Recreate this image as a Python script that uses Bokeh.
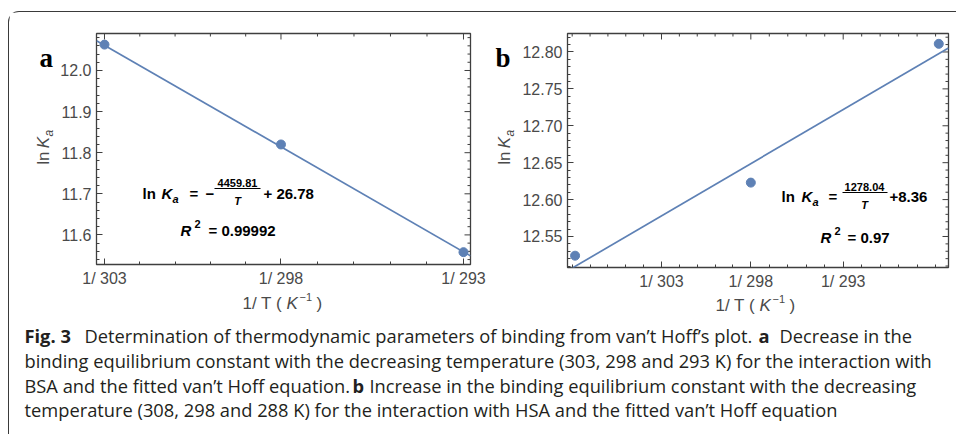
import math
from bokeh.plotting import figure
from bokeh.models import Range1d, FixedTicker, Label, PrintfTickFormatter
from bokeh.layouts import row, column
from bokeh.embed import file_html
from bokeh.resources import INLINE
from bokeh.core.properties import value

# ---------------- data ----------------
temps_a = [303, 298, 293]
lnka_a = [12.063, 11.820, 11.558]
fit_slope_a = -4459.81
fit_icpt_a = 26.78
r2_a = "0.99992"

temps_b = [308, 298, 288]
lnka_b = [12.524, 12.623, 12.811]
fit_slope_b = 1278.04
fit_icpt_b = 8.36
r2_b = "0.97"

xtick_temps = [303, 298, 293]
xtick_labels = ["1/ 303", "1/ 298", "1/ 293"]
ytick_a = [11.6, 11.7, 11.8, 11.9, 12.0]
ytick_b = [12.55, 12.60, 12.65, 12.70, 12.75, 12.80]

caption_l1 = ["Fig. 3", "Determination of thermodynamic parameters of binding from van\u2019t Hoff\u2019s plot.", "a", "Decrease in the"]
caption_l2 = ["binding equilibrium constant with the decreasing temperature (303, 298 and 293 K) for the interaction with"]
caption_l3 = ["BSA and the fitted van\u2019t Hoff equation.", "b", "Increase in the binding equilibrium constant with the decreasing"]
caption_l4 = ["temperature (308, 298 and 288 K) for the interaction with HSA and the fitted van\u2019t Hoff equation"]

# ---------------- style ----------------
BLUE = "#5E81B5"
FRAME = "#3f3f3f"
TXT = "#4a4a4a"
SANS = "Liberation Sans"


def minor_ticks(majors, n=4, extend=12):
    ms = sorted(majors)
    out = []
    for a, b in zip(ms[:-1], ms[1:]):
        st = (b - a) / (n + 1)
        out += [a + st * k for k in range(1, n + 1)]
    s0 = (ms[1] - ms[0]) / (n + 1)
    s1 = (ms[-1] - ms[-2]) / (n + 1)
    out += [ms[0] - s0 * k for k in range(1, extend)]
    out += [ms[-1] + s1 * k for k in range(1, extend)]
    return out


def make_panel(xr, yr, fw, fh, bl, br, bt, bb, yticks, yfmt):
    p = figure(frame_width=fw, frame_height=fh, min_border_left=bl, min_border_right=br,
               min_border_top=bt, min_border_bottom=bb,
               x_range=Range1d(*xr), y_range=Range1d(*yr),
               output_backend="svg", toolbar_location=None)
    p.grid.visible = False
    p.outline_line_color = FRAME
    p.outline_line_width = 1.3
    xmaj = [1.0 / t for t in xtick_temps]
    xmin = minor_ticks(xmaj)
    ymin = minor_ticks(yticks)
    p.xaxis.ticker = FixedTicker(ticks=xmaj, minor_ticks=xmin)
    p.yaxis.ticker = FixedTicker(ticks=yticks, minor_ticks=ymin)
    for ax in p.xaxis + p.yaxis:
        ax.axis_line_color = None
        ax.major_tick_line_color = FRAME
        ax.minor_tick_line_color = FRAME
        ax.major_tick_in = 6
        ax.major_tick_out = 0
        ax.minor_tick_in = 3
        ax.minor_tick_out = 0
        ax.major_label_text_font = SANS
        ax.major_label_text_font_size = "16px"
        ax.major_label_text_color = TXT
    p.xaxis.major_label_overrides = {1.0 / t: lab for t, lab in zip(xtick_temps, xtick_labels)}
    p.xaxis.major_label_standoff = 5
    p.yaxis.formatter = PrintfTickFormatter(format=yfmt)
    p.yaxis.major_label_standoff = 5
    # mirrored frame ticks on top and right edges
    dx = (xr[1] - xr[0]) / fw
    dy = (yr[1] - yr[0]) / fh
    for ticks, ln in ((xmaj, 6), (xmin, 3)):
        p.segment(x0=ticks, y0=[yr[1]] * len(ticks), x1=ticks, y1=[yr[1] - ln * dy] * len(ticks),
                  line_color=FRAME, line_width=1)
    for ticks, ln in ((yticks, 6), (ymin, 3)):
        p.segment(x0=[xr[1]] * len(ticks), y0=ticks, x1=[xr[1] - ln * dx] * len(ticks), y1=ticks,
                  line_color=FRAME, line_width=1)
    return p


def geo_factory(xr, yr, fl, fr, ft, fb):
    def geo(gx, gy):
        x = xr[0] + (gx - fl) / (fr - fl) * (xr[1] - xr[0])
        y = yr[1] - (gy - ft) / (fb - ft) * (yr[1] - yr[0])
        return x, y
    return geo


def lab(p, geo, gx, gy, text, size, font=SANS, style="normal", color="black",
        align="left", baseline="middle"):
    x, y = geo(gx, gy)
    p.add_layout(Label(x=x, y=y, text=text, text_font=font, text_font_size=f"{size}px",
                       text_font_style=style, text_color=color, text_align=align,
                       text_baseline=baseline))


def fit_line(p, xr, slope, icpt):
    xs = [xr[0], xr[1]]
    ys = [slope * x + icpt for x in xs]
    p.line(xs, ys, line_color=BLUE, line_width=1.7)


def strip(ox, oy, w, h):
    """plain text canvas placed at global pixel (ox, oy)"""
    s = figure(width=w, height=h, x_range=Range1d(0, w), y_range=Range1d(0, h),
               x_axis_location=None, y_axis_location=None, min_border=0,
               output_backend="svg", toolbar_location=None)
    s.grid.visible = False
    s.outline_line_color = None

    def put(gx, gy, text, size, font=SANS, style="normal", color="black",
            align="left", baseline="middle", angle=0.0):
        s.text(x=[gx - ox], y=[oy + h - gy], text=[text], text_font=value(font),
               text_font_size=f"{size}px", text_font_style=style, text_color=color,
               text_align=align, text_baseline=baseline, angle=angle)
    return s, put


ROW_Y = 12
ROW_H = 278
EQ = 15
EQS = 11

# ---------------- left strip (letter a + y label) ----------------
sa, put_a = strip(9, ROW_Y, 48, ROW_H)
put_a(39, 41, "a", 27, font="Liberation Serif", style="bold")
put_a(43, 170, "ln", 17, color=TXT, angle=math.pi / 2)
put_a(43, 150, "K", 17, style="italic", color=TXT, angle=math.pi / 2)
put_a(48, 136, "a", 12, style="italic", color=TXT, angle=math.pi / 2)

# ---------------- panel a ----------------
xr_a = (0.00329782, 0.00341517)
yr_a = (11.528, 12.090)
pa = make_panel(xr_a, yr_a, 374, 231, 38, 21, 21, 26, ytick_a, "%.1f")
ga = geo_factory(xr_a, yr_a, 95, 469, 33, 264)
fit_line(pa, xr_a, fit_slope_a, fit_icpt_a)
pa.scatter([1.0 / t for t in temps_a], lnka_a, size=9, color=BLUE)

lab(pa, ga, 141, 193, "ln", EQ, style="bold")
lab(pa, ga, 160, 193, "K", EQ, style="bold italic")
lab(pa, ga, 171, 198, "a", EQS, style="bold italic")
lab(pa, ga, 188, 193, "=", EQ, style="bold")
lab(pa, ga, 204, 193, "\u2212", EQ, style="bold")
lab(pa, ga, 236, 182, f"{abs(fit_slope_a):.2f}", EQS, style="bold", align="center")
lab(pa, ga, 236, 200, "T", EQS, style="bold italic", align="center")
bx0, by0 = ga(213, 188)
bx1, _ = ga(259, 188)
pa.segment(x0=[bx0], y0=[by0], x1=[bx1], y1=[by0], line_color="black", line_width=1)
lab(pa, ga, 262, 193, f"+ {fit_icpt_a:.2f}", EQ, style="bold")
lab(pa, ga, 179, 230, "R", EQ, style="bold italic")
lab(pa, ga, 193, 223, "2", EQS, style="bold")
lab(pa, ga, 207, 230, f"=  {r2_a}", EQ, style="bold")

# ---------------- middle strip (letter b + y label) ----------------
sb, put_b = strip(490, ROW_Y, 26, ROW_H)
put_b(494, 42, "b", 27, font="Liberation Serif", style="bold")
put_b(503, 170, "ln", 17, color=TXT, angle=math.pi / 2)
put_b(503, 150, "K", 17, style="italic", color=TXT, angle=math.pi / 2)
put_b(508, 136, "a", 12, style="italic", color=TXT, angle=math.pi / 2)

# ---------------- panel b ----------------
xr_b = (0.00324205, 0.00347825)
yr_b = (12.508, 12.825)
pb = make_panel(xr_b, yr_b, 381, 234, 50, 9, 18, 26, ytick_b, "%.2f")
gb = geo_factory(xr_b, yr_b, 566, 947, 30, 264)
fit_line(pb, xr_b, fit_slope_b, fit_icpt_b)
pb.scatter([1.0 / t for t in temps_b], lnka_b, size=9, color=BLUE)

lab(pb, gb, 780, 193, "ln", EQ, style="bold")
lab(pb, gb, 800, 193, "K", EQ, style="bold italic")
lab(pb, gb, 811, 198, "a", EQS, style="bold italic")
lab(pb, gb, 827, 193, "=", EQ, style="bold")
lab(pb, gb, 863, 183, f"{fit_slope_b:.2f}", EQS, style="bold", align="center")
lab(pb, gb, 863, 201, "T", EQS, style="bold italic", align="center")
cx0, cy0 = gb(841, 189)
cx1, _ = gb(886, 189)
pb.segment(x0=[cx0], y0=[cy0], x1=[cx1], y1=[cy0], line_color="black", line_width=1)
lab(pb, gb, 888, 193, f"+{fit_icpt_b:.2f}", EQ, style="bold")
lab(pb, gb, 819, 234, "R", EQ, style="bold italic")
lab(pb, gb, 833, 227, "2", EQS, style="bold")
lab(pb, gb, 846, 234, f"=  {r2_b}", EQ, style="bold")

# ---------------- bottom: x labels + caption ----------------
CAP_Y = ROW_Y + ROW_H
pc, put_c = strip(9, CAP_Y, 947, 144)
# x axis labels
put_c(242, 303, "1/ T (", 17, color=TXT)
put_c(286, 303, "K", 17, style="italic", color=TXT)
put_c(299, 296, "\u22121", 11, color=TXT)
put_c(316, 303, ")", 17, color=TXT)
put_c(715, 305, "1/ T (", 17, color=TXT)
put_c(759, 305, "K", 17, style="italic", color=TXT)
put_c(772, 298, "\u22121", 11, color=TXT)
put_c(789, 305, ")", 17, color=TXT)

CAPF = "Open Sans"
CAPS = 18.3
CAPC = "#231f20"


def cap(pieces, xs, gy, bolds):
    for t, gx, b in zip(pieces, xs, bolds):
        put_c(gx, gy, t, CAPS, font=CAPF, style="bold" if b else "normal", color=CAPC)


cap(caption_l1, [24, 84, 758, 779], 335, [True, False, True, False])
cap(caption_l2, [24], 360, [False])
cap(caption_l3, [24, 352, 369], 385, [False, True, False])
cap(caption_l4, [24], 409, [False])

layout = column(row(sa, pa, sb, pb), pc, margin=(11, 0, 0, 8),
                styles={"border-top": "1px solid #3a3a3a", "border-left": "1px solid #3a3a3a",
                        "border-top-left-radius": "11px"})

open("out.html", "w").write(file_html(layout, INLINE))
